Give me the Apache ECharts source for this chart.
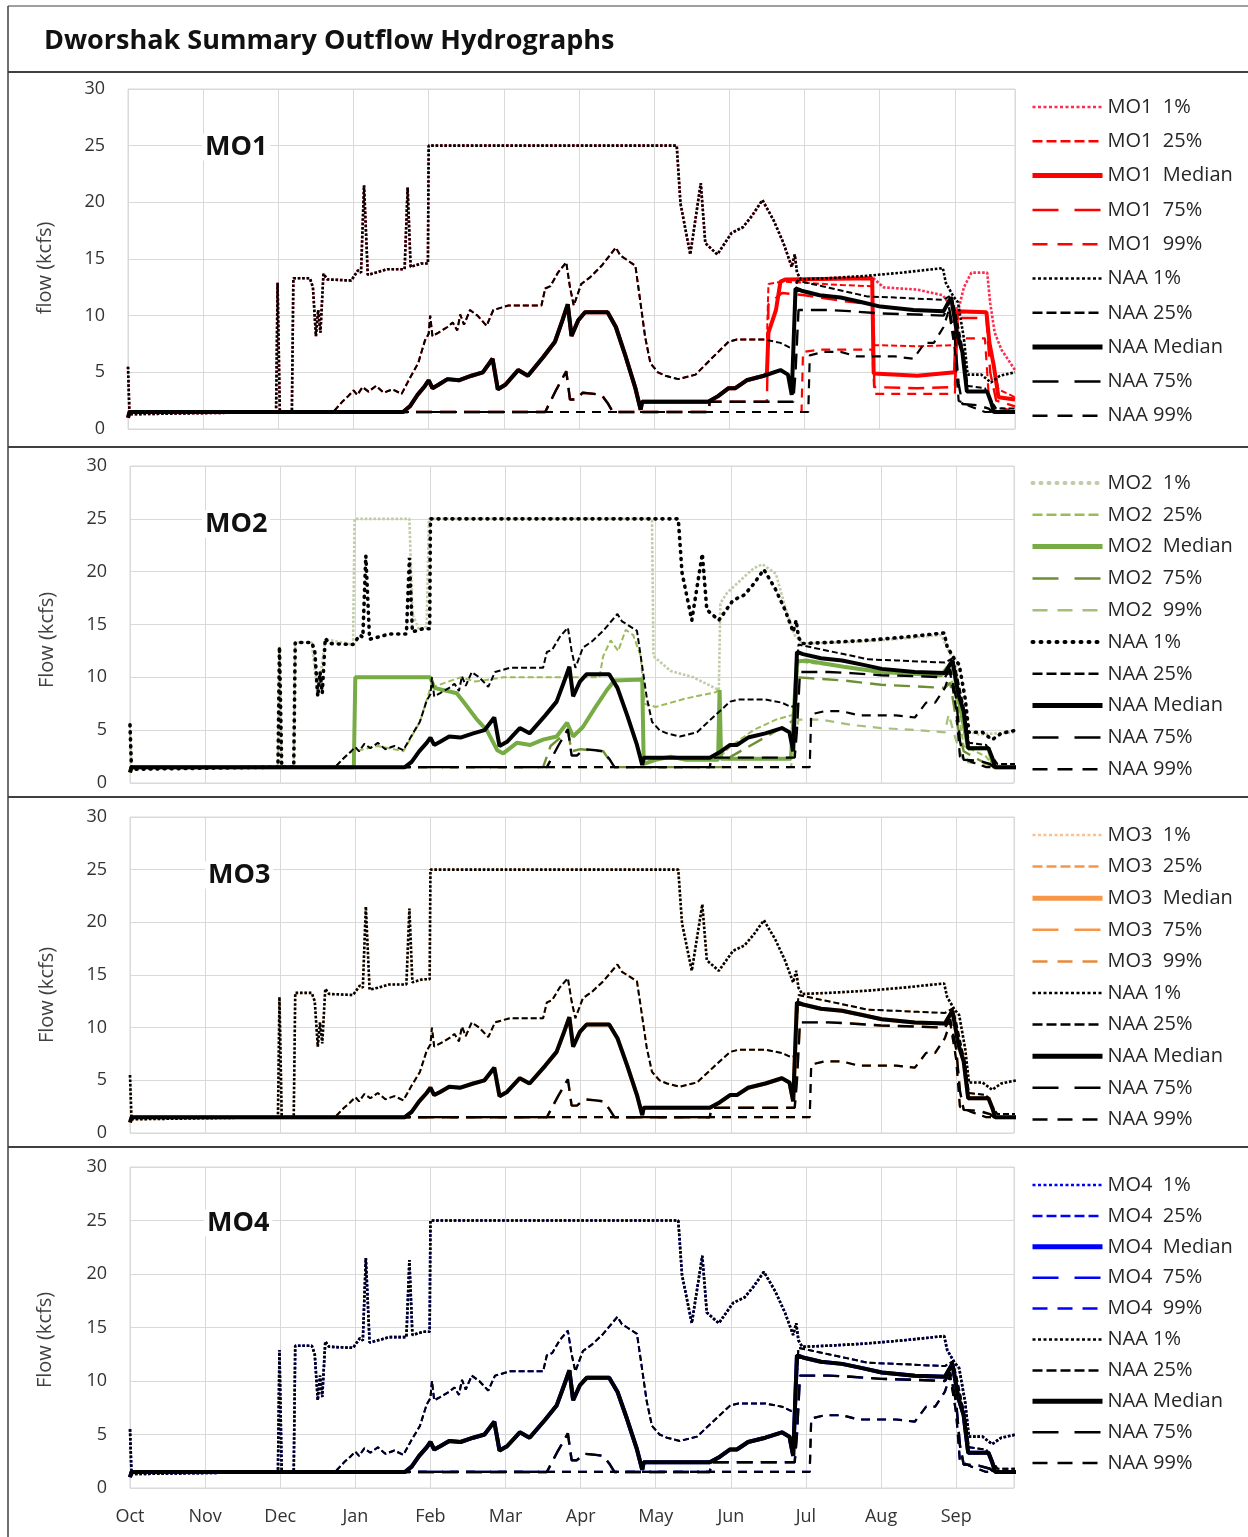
<!DOCTYPE html>
<html><head><meta charset="utf-8">
<script src="https://cdn.jsdelivr.net/npm/echarts@6/dist/echarts.min.js"></script>
<style>html,body{margin:0;padding:0;background:#fff}#c{width:1248px;height:1537px}</style>
</head><body><div id="c"></div>
<script>
// ---- tick labels / categories ----
const MONTHS = ['Oct','Nov','Dec','Jan','Feb','Mar','Apr','May','Jun','Jul','Aug','Sep'];
const PANELS = ['MO1','MO2','MO3','MO4'];
const STATS = ['1%','25%','Median','75%','99%'];
// x = months since Oct 1 (one unit per month), y = flow (kcfs)

// ---- NAA (shared by all panels); A = Oct..mid-Jun, B = mid-Jun..Sep ----
const NAA_1_A = [[0,5.5],[0.02,1.3],[1.97,1.5],[1.99,12.9],[2.02,1.5],[2.18,1.5],[2.2,13.3],[2.42,13.3],[2.46,12.5],[2.5,8.2],[2.53,10.5],[2.56,8.5],[2.6,13.7],[2.65,13.2],[2.97,13.1],[3.06,14.0],[3.1,13.8],[3.14,21.5],[3.19,13.6],[3.3,13.8],[3.45,14.1],[3.68,14.1],[3.72,21.3],[3.76,14.3],[3.9,14.6],[3.99,14.6],[4.0,25],[7.3,25],[7.35,19.9],[7.48,15.4],[7.62,21.7],[7.68,16.4],[7.84,15.4],[8.03,17.3],[8.18,17.8],[8.3,18.8],[8.44,20.2]];
const NAA_1_B = [[8.59,18.4],[8.72,16.4],[8.83,14.3],[8.87,15.4],[8.9,13.8],[8.95,13.2],[9.3,13.3],[9.8,13.5],[10.3,13.8],[10.84,14.2],[10.88,12.9],[10.98,11.7],[11.04,11.2],[11.12,8.0],[11.17,4.8],[11.35,4.8],[11.48,4.1],[11.6,4.7],[11.8,5.0]];
const NAA_25_A = [[0,1.5],[2.73,1.5],[2.85,2.4],[2.93,2.9],[3.0,3.4],[3.05,3.0],[3.12,3.7],[3.2,3.3],[3.3,3.8],[3.4,3.2],[3.52,3.5],[3.64,3.1],[3.75,4.5],[3.86,5.8],[3.95,7.8],[4.0,8.4],[4.02,10.0],[4.05,8.2],[4.13,8.5],[4.25,9.0],[4.32,9.4],[4.38,8.7],[4.42,10.1],[4.47,9.2],[4.55,10.5],[4.65,10.0],[4.77,9.1],[4.86,10.5],[5.06,10.9],[5.5,10.9],[5.55,12.4],[5.62,12.6],[5.72,13.8],[5.83,14.7],[5.88,12.5],[5.93,10.9],[6.03,12.8],[6.15,13.4],[6.3,14.4],[6.49,16.0],[6.55,15.3],[6.62,15.0],[6.75,14.4],[6.8,12.0],[6.88,8.1],[6.95,5.8],[7.05,5.0],[7.15,4.7],[7.32,4.4],[7.55,4.8],[7.76,6.2],[7.99,7.7],[8.1,7.9],[8.46,7.9]];
const NAA_25_B = [[8.68,7.6],[8.8,7.2],[8.85,7.3],[8.9,13.1],[9.1,12.8],[9.3,12.5],[9.5,12.2],[9.7,11.9],[9.83,11.7],[10.2,11.6],[10.5,11.5],[10.85,11.4],[10.95,11.8],[11.0,10.5],[11.06,8.5],[11.12,6.5],[11.17,3.8],[11.4,3.6],[11.47,2.6],[11.55,1.8],[11.8,1.8]];
const NAA_MED_A = [[0,1.0],[0.02,1.5],[3.66,1.5],[3.75,2.0],[3.85,3.0],[3.95,3.8],[4.0,4.3],[4.05,3.6],[4.13,3.9],[4.25,4.4],[4.4,4.3],[4.57,4.7],[4.72,5.0],[4.85,6.2],[4.92,3.5],[5.02,3.9],[5.19,5.2],[5.32,4.7],[5.53,6.4],[5.68,7.7],[5.78,9.6],[5.85,11.0],[5.9,8.2],[5.99,9.6],[6.08,10.3],[6.38,10.3],[6.49,9.0],[6.62,6.4],[6.75,3.6],[6.82,1.7],[6.84,2.4],[7.72,2.4],[7.85,2.9],[7.99,3.6],[8.08,3.6],[8.23,4.3],[8.46,4.7]];
const NAA_MED_B = [[8.68,5.2],[8.78,4.8],[8.83,3.0],[8.88,12.4],[8.96,12.2],[9.2,11.8],[9.48,11.6],[9.75,11.2],[10.01,10.8],[10.45,10.5],[10.85,10.4],[10.95,11.6],[11.03,8.4],[11.1,6.8],[11.16,3.3],[11.43,3.3],[11.48,2.4],[11.52,1.5],[11.8,1.5]];
const NAA_75_A = [[0,1.5],[5.55,1.5],[5.7,3.5],[5.83,5.1],[5.88,2.6],[5.95,2.6],[6.05,3.2],[6.2,3.1],[6.3,3.0],[6.38,2.3],[6.45,1.5],[7.72,1.5],[7.74,2.4],[8.46,2.4]];
const NAA_75_B = [[8.85,2.4],[8.88,5.0],[8.92,10.5],[9.3,10.5],[9.6,10.4],[10.0,10.2],[10.5,10.1],[10.85,10.0],[10.92,10.8],[11.0,8.0],[11.05,4.0],[11.1,2.2],[11.3,2.1],[11.45,1.8],[11.5,1.5],[11.8,1.5]];
const NAA_99_A = [[0,1.5],[8.46,1.5]];
const NAA_99_B = [[9.05,1.5],[9.07,6.5],[9.25,6.8],[9.48,6.8],[9.7,6.4],[10.2,6.4],[10.45,6.2],[10.6,7.6],[10.72,7.6],[10.85,9.0],[10.92,10.5],[11.0,7.0],[11.05,2.5],[11.2,2.0],[11.4,1.5],[11.8,1.5]];

// ---- MO1 (same as NAA until mid-June) ----
const MO1_1_B = [[8.59,18.4],[8.72,16.4],[8.83,14.3],[8.87,15.4],[8.9,13.8],[8.95,13.2],[9.3,13.3],[9.9,13.4],[10.05,12.5],[10.5,12.3],[10.84,11.8],[10.95,10.8],[11.05,10.6],[11.12,12.5],[11.22,13.8],[11.43,13.8],[11.47,11.1],[11.53,8.5],[11.62,7.0],[11.8,5.2]];
const MO1_25_B = [[8.5,8.0],[8.52,12.8],[8.7,13.0],[9.0,12.9],[9.5,12.7],[9.9,12.6],[9.93,7.4],[10.5,7.3],[11.0,7.4],[11.03,10.3],[11.42,10.3],[11.46,7.5],[11.52,5.5],[11.58,3.5],[11.8,2.8]];
const MO1_MED_B = [[8.5,4.9],[8.52,8.5],[8.62,10.5],[8.68,13.0],[8.75,13.2],[9.9,13.3],[9.92,4.9],[10.5,4.7],[11.0,5.0],[11.03,10.4],[11.42,10.3],[11.46,7.6],[11.52,5.5],[11.58,2.8],[11.8,2.6]];
const MO1_75_B = [[8.5,2.4],[8.52,11.0],[8.7,12.0],[9.0,11.8],[9.5,11.3],[9.9,11.0],[9.93,3.7],[10.5,3.6],[11.0,3.7],[11.03,9.8],[11.42,9.8],[11.47,5.0],[11.55,2.5],[11.8,2.0]];
const MO1_99_B = [[8.96,1.5],[8.98,6.8],[9.2,7.0],[9.9,7.0],[9.93,3.1],[11.0,3.1],[11.03,8.0],[11.4,8.0],[11.45,3.0],[11.5,2.0],[11.8,1.6]];

// ---- MO2 ----
const MO2_1 = [[0,5.0],[0.02,1.5],[1.97,1.5],[1.99,12.9],[2.02,1.5],[2.18,1.5],[2.2,13.3],[2.42,13.3],[2.5,8.2],[2.6,13.6],[2.97,13.1],[2.99,25],[3.72,25],[3.76,16.0],[3.85,14.5],[3.95,14.8],[3.98,25],[6.95,25],[6.97,12.0],[7.2,10.6],[7.5,10.0],[7.84,8.8],[7.86,17.0],[7.95,18.0],[8.1,19.0],[8.3,20.3],[8.42,20.7],[8.6,19.8],[8.75,16.0],[8.85,14.0],[8.95,13.2],[9.5,13.3],[10.0,13.5],[10.5,13.8],[10.8,14.0],[10.9,12.5],[11.0,11.0],[11.1,5.0],[11.3,4.6],[11.8,4.8]];
const MO2_25 = [[0,1.5],[2.73,1.5],[2.93,2.9],[3.3,3.5],[3.64,3.0],[3.86,5.8],[4.0,9.0],[4.2,9.5],[4.4,10.0],[4.6,9.6],[4.97,10.0],[6.25,10.0],[6.3,12.0],[6.4,13.5],[6.5,12.5],[6.6,14.5],[6.7,14.0],[6.8,12.0],[6.85,7.5],[7.0,7.2],[7.4,8.0],[7.8,8.6],[7.84,8.8],[7.86,2.5],[8.0,3.5],[8.3,5.0],[8.6,6.0],[8.85,6.5],[8.9,11.5],[9.5,11.0],[10.0,10.5],[10.85,10.3],[10.9,10.8],[11.0,8.0],[11.1,3.5],[11.4,2.5],[11.5,1.5],[11.8,1.5]];
const MO2_MED = [[0,1.0],[0.02,1.5],[2.98,1.5],[3.0,10.0],[4.0,10.0],[4.05,9.0],[4.35,8.5],[4.45,7.6],[4.62,6.0],[4.75,5.0],[4.89,3.1],[4.97,2.8],[5.15,3.8],[5.33,3.6],[5.5,4.1],[5.68,4.4],[5.82,5.7],[5.9,4.4],[6.03,5.3],[6.2,7.2],[6.35,8.8],[6.45,9.7],[6.82,9.8],[6.84,1.8],[7.0,2.2],[7.2,2.5],[7.4,2.2],[7.83,2.2],[7.85,8.8],[7.87,2.3],[8.2,2.3],[8.8,2.3],[8.88,11.5],[9.0,11.6],[9.5,11.0],[10.0,10.5],[10.8,10.2],[10.95,11.5],[11.03,8.0],[11.16,3.3],[11.43,3.3],[11.5,1.5],[11.8,1.5]];
const MO2_75 = [[0,1.5],[5.5,1.5],[5.6,3.5],[5.83,4.9],[5.88,3.0],[6.0,3.2],[6.3,3.0],[6.45,1.5],[7.9,1.5],[8.0,2.5],[8.5,4.5],[8.85,6.0],[8.9,10.0],[9.5,9.7],[10.0,9.3],[10.85,9.0],[10.92,9.5],[11.0,6.0],[11.1,3.0],[11.3,2.2],[11.5,1.5],[11.8,1.5]];
const MO2_99 = [[0,1.5],[8.8,1.5],[8.9,6.0],[9.2,6.0],[9.6,5.5],[10.0,5.2],[10.5,5.0],[10.85,4.8],[10.9,6.5],[11.0,4.0],[11.1,2.0],[11.8,1.5]];

// ---- assemble per-panel data ----
const NAA = [NAA_1_A.concat(NAA_1_B), NAA_25_A.concat(NAA_25_B), NAA_MED_A.concat(NAA_MED_B), NAA_75_A.concat(NAA_75_B), NAA_99_A.concat(NAA_99_B)];
const MO1 = [NAA_1_A.concat(MO1_1_B), NAA_25_A.concat(MO1_25_B), NAA_MED_A.concat(MO1_MED_B), NAA_75_A.concat(MO1_75_B), NAA_99_A.concat(MO1_99_B)];
const MO2 = [MO2_1, MO2_25, MO2_MED, MO2_75, MO2_99];
const MO3 = NAA; // MO3 coincides with NAA
const MO4 = NAA; // MO4 coincides with NAA
const ALT = [MO1, MO2, MO3, MO4];

const ALT_COLORS = [
  ['#ff2b4f','#ff0000','#ff0000','#ff0000','#ff0000'],
  ['#bfcca6','#9bbb59','#77ab43','#6f8f35','#a6c079'],
  ['#fac090','#f79646','#f79646','#f79646','#e88a3a'],
  ['#0000ff','#0000ff','#0000ff','#0000ff','#0000ff']
];

const FONT = 'Open Sans';
const grids = [
  {left:128, top:89, width:887, height:340, max:11.8},
  {left:130, top:466, width:884, height:317, max:11.77},
  {left:130, top:817, width:884, height:316, max:11.77},
  {left:130, top:1167, width:884, height:321, max:11.77}
];
const legendTops = [97, 473, 825, 1175];
const legendGaps = [14.3, 11.8, 11.6, 10.9];

function styleFor(k, naa, p){
  if (k===0) return (naa && p===1) ? {type:[1,6], width:3.6, cap:'round'} : {type:[2.6,1.8], width:2.6};
  if (k===1) return {type:[6,3], width:2};
  if (k===2) return {type:'solid', width:4};
  if (k===3) return {type:[16,8], width:2.4};
  return {type:[9,7], width:2.2};
}
function legendStyle(k, naa, p){
  if (k===0) return (p===1) ? {type:[1,7], width:4, cap:'round'} : {type:[3,2.5], width:2.5};
  if (k===1) return {type:[10,4], width:2.5};
  if (k===2) return {type:'solid', width:5};
  if (k===3) return {type:[26,16], width:2.5};
  return {type:[15,10], width:2.5};
}

const series = [], legends = [];
for (let p=0;p<4;p++){
  const items = [];
  for (let k=0;k<5;k++){
    const nm = p+'|'+PANELS[p]+'  '+STATS[k];
    const col = ALT_COLORS[p][k];
    items.push({name:nm, lineStyle:Object.assign({color:col}, legendStyle(k,false,p))});
    series.push({type:'line', name:nm, xAxisIndex:p, yAxisIndex:p, data:ALT[p][k], showSymbol:false, symbol:'none',
      color:col, lineStyle:Object.assign({color:col}, styleFor(k,false,p)), animation:false, silent:true});
  }
  for (let k=0;k<5;k++){
    const nm = p+'|NAA '+STATS[k];
    items.push({name:nm, lineStyle:Object.assign({color:'#000000'}, legendStyle(k,true,p))});
    series.push({type:'line', name:nm, xAxisIndex:p, yAxisIndex:p, data:NAA[k], showSymbol:false, symbol:'none',
      color:'#000000', lineStyle:Object.assign({color:'#000000'}, styleFor(k,true,p)), animation:false, silent:true});
  }
  legends.push({data:items, orient:'vertical', left:1030, top:legendTops[p], itemWidth:70, itemHeight:14,
    itemGap:legendGaps[p], selectedMode:false, formatter:n=>n.split('|')[1],
    itemStyle:{opacity:0},
    textStyle:{fontFamily:FONT, fontSize:20, color:'#262626', lineHeight:20, padding:[0,0,0,0]}, padding:0});
}

function panelLabel(t, x, y){
  return {type:'text', x:x, y:y, z:10, style:{text:t, fontFamily:FONT, fontWeight:'bold', fontSize:27, fill:'#111',
    verticalAlign:'middle', backgroundColor:'#ffffff', padding:[0,3,0,3]}};
}
function yName(t, x, y){
  return {type:'text', x:x, y:y, rotation:Math.PI/2, style:{text:t, fontFamily:FONT, fontSize:20, fill:'#404040', align:'center', verticalAlign:'middle'}};
}

const option = {
  animation:false,
  backgroundColor:'#ffffff',
  grid: grids.map(g=>({left:g.left, top:g.top, width:g.width, height:g.height, show:true, borderColor:'#d9d9d9', borderWidth:1, containLabel:false})),
  xAxis: grids.map((g,i)=>({type:'value', gridIndex:i, min:0, max:g.max, interval:1,
    axisLine:{show:false}, axisTick:{show:false},
    splitLine:{show:true, lineStyle:{color:'#d9d9d9', width:1}},
    axisLabel:{show:i===3, margin:20, fontFamily:FONT, fontSize:18, color:'#333333',
      formatter:v=>Number.isInteger(v)&&v<12 ? MONTHS[v] : ''}})),
  yAxis: grids.map((g,i)=>({type:'value', gridIndex:i, min:0, max:30, interval:5,
    axisLine:{show:false}, axisTick:{show:false},
    splitLine:{show:true, lineStyle:{color:'#d9d9d9', width:1}},
    axisLabel:{margin:23, fontFamily:FONT, fontSize:18, color:'#333333'}})),
  legend: legends,
  series: series,
  graphic: [
    {type:'line', shape:{x1:8,y1:6,x2:1248,y2:6}, style:{stroke:'#7f7f7f', lineWidth:1.5}},
    {type:'line', shape:{x1:8,y1:6,x2:8,y2:1537}, style:{stroke:'#404040', lineWidth:1.5}},
    {type:'line', shape:{x1:8,y1:72,x2:1248,y2:72}, style:{stroke:'#404040', lineWidth:2}},
    {type:'line', shape:{x1:8,y1:447,x2:1248,y2:447}, style:{stroke:'#404040', lineWidth:2}},
    {type:'line', shape:{x1:8,y1:797,x2:1248,y2:797}, style:{stroke:'#404040', lineWidth:2}},
    {type:'line', shape:{x1:8,y1:1147,x2:1248,y2:1147}, style:{stroke:'#404040', lineWidth:2}},
    {type:'text', x:44, y:41, style:{text:'Dworshak Summary Outflow Hydrographs', fontFamily:FONT, fontWeight:'bold', fontSize:27, fill:'#111', verticalAlign:'middle'}},
    panelLabel('MO1', 202, 147),
    panelLabel('MO2', 202, 524),
    panelLabel('MO3', 205, 875),
    panelLabel('MO4', 204, 1223),
    yName('flow (kcfs)', 45, 268),
    yName('Flow (kcfs)', 47, 640),
    yName('Flow (kcfs)', 47, 995),
    yName('Flow (kcfs)', 45, 1340)
  ]
};
const chart = echarts.init(document.getElementById('c'), null, {renderer:'canvas'});
chart.setOption(option);
</script></body></html>
